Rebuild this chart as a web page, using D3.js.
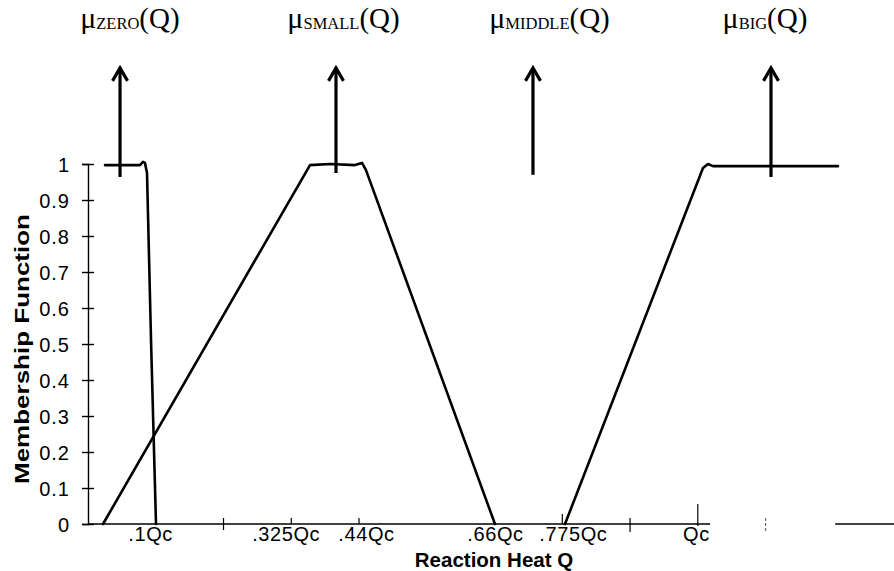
<!DOCTYPE html>
<html>
<head>
<meta charset="utf-8">
<script src="https://cdn.jsdelivr.net/npm/d3@7/dist/d3.min.js"></script>
<style>
  html, body { margin: 0; padding: 0; background: #fff; }
  svg { display: block; }
</style>
</head>
<body>
<svg id="chart" width="894" height="571"></svg>
<script>
// Membership functions of the reaction heat Q (x in units of Qc)
const zeroQ   = [0.0276, 0.0844, 0.0893, 0.0925, 0.0958, 0.1023, 0.1104];
const zeroMu  = [0.997, 0.997, 1.006, 1.003, 0.975, 0.511, 0];
const smallQ  = [0.0244, 0.3604, 0.3929, 0.4334, 0.4448, 0.4513, 0.6607];
const smallMu = [0, 0.997, 1.0, 0.997, 1.003, 0.983, 0];
const bigQ    = [0.7744, 0.9984, 1.0065, 1.0146, 1.2175];
const bigMu   = [0, 0.989, 1.0, 0.994, 0.994];

// Fuzzy set names and where their singleton arrows stand
const setNames  = ["ZERO", "SMALL", "MIDDLE", "BIG"];
const arrowQ    = [0.052, 0.4026, 0.7224, 1.1088];
const arrowFrom = [0.964, 0.975, 0.97, 0.964];
const arrowTo   = 1.267;
const nameQ     = [0.068, 0.4148, 0.7492, 1.099];

// Axis ticks and labels
const yTicks      = [0, 0.1, 0.2, 0.3, 0.4, 0.5, 0.6, 0.7, 0.8, 0.9, 1];
const xTicks      = [0.22, 0.33, 0.44, 0.77, 0.88, 0.99, 1.10];
const xLabelQ     = [0.1, 0.325, 0.44, 0.66, 0.775, 1];
const xLabelText  = [".1Qc", ".325Qc", ".44Qc", ".66Qc", ".775Qc", "Qc"];
const axisSpans   = [[0, 1.01], [1.213, 1.3085]];

// layout
const xLabelNudge = [1, -2, 7.5, 1, 8, -7.5];
const xTickUp     = [6, 6, 6, 10, 6, 20, 6];
const xTickDown   = [6, 0, 0, 0, 8, 2, 9];
const svg = d3.select("#chart");
const x = d3.scaleLinear().domain([0, 1.3085]).range([88, 894]);
const y = d3.scaleLinear().domain([0, 1]).range([524, 164]);

const sans = "'Liberation Sans', Arial, sans-serif";
const serif = "'Liberation Serif', 'Times New Roman', serif";

// y axis with crossing ticks
const yAxis = svg.append("g")
  .attr("transform", `translate(${x(0)},0)`)
  .call(d3.axisLeft(y).tickValues(yTicks).tickSize(6).tickPadding(12)
        .tickFormat(d => (d === 0 || d === 1) ? String(d) : d3.format(".1f")(d)));
yAxis.select(".domain").attr("stroke", "#000").attr("stroke-width", 1.4);
yAxis.selectAll(".tick line").attr("x1", 6).attr("stroke", "#000").attr("stroke-width", 1.4);
yAxis.selectAll(".tick text")
  .attr("font-family", sans).attr("font-size", 20).attr("letter-spacing", 1)
  .attr("fill", "#000").attr("dy", "0.36em");

// x axis line (drawn in spans) and ticks
svg.append("g").selectAll("line").data(axisSpans).join("line")
  .attr("x1", d => x(d[0])).attr("x2", d => x(d[1]))
  .attr("y1", y(0)).attr("y2", y(0))
  .attr("stroke", "#000").attr("stroke-width", 1.6);
svg.append("g").selectAll("line").data(xTicks).join("line")
  .attr("x1", d => x(d)).attr("x2", d => x(d))
  .attr("y1", (d, i) => y(0) - xTickUp[i]).attr("y2", (d, i) => y(0) + xTickDown[i])
  .attr("stroke", (d, i) => i === xTicks.length - 1 ? "#666" : "#000")
  .attr("stroke-dasharray", (d, i) => i === xTicks.length - 1 ? "3,2" : null)
  .attr("stroke-width", 1.2);

svg.append("g").selectAll("text").data(xLabelQ).join("text")
  .attr("x", (d, i) => x(d) + xLabelNudge[i]).attr("y", 541)
  .attr("text-anchor", "middle")
  .attr("font-family", sans).attr("font-size", 20).attr("letter-spacing", 0.6)
  .text((d, i) => xLabelText[i]);

// axis titles
svg.append("text")
  .attr("x", 494).attr("y", 567).attr("text-anchor", "middle")
  .attr("font-family", sans).attr("font-size", 20.5).attr("font-weight", "bold")
  .text("Reaction Heat Q");
svg.append("text")
  .attr("transform", "translate(29,349) rotate(-90)")
  .attr("text-anchor", "middle")
  .attr("font-family", sans).attr("font-size", 21).attr("font-weight", "bold")
  .attr("textLength", 270).attr("lengthAdjust", "spacingAndGlyphs")
  .text("Membership Function");

// membership curves
const line = d3.line().x(d => x(d[0])).y(d => y(d[1]));
const curves = [d3.zip(zeroQ, zeroMu), d3.zip(smallQ, smallMu), d3.zip(bigQ, bigMu)];
svg.append("g").selectAll("path").data(curves).join("path")
  .attr("d", line)
  .attr("fill", "none").attr("stroke", "#000").attr("stroke-width", 2.6)
  .attr("stroke-linejoin", "round").attr("stroke-linecap", "round");

// singleton arrows
const arrows = svg.append("g").selectAll("g").data(arrowQ).join("g");
arrows.append("line")
  .attr("x1", d => x(d)).attr("x2", d => x(d))
  .attr("y1", (d, i) => y(arrowFrom[i])).attr("y2", y(arrowTo) + 2)
  .attr("stroke", "#000").attr("stroke-width", 3.2);
arrows.append("path")
  .attr("d", d => `M${x(d) - 7.5},${y(arrowTo) + 13} L${x(d)},${y(arrowTo)} L${x(d) + 7.5},${y(arrowTo) + 13}`)
  .attr("fill", "none").attr("stroke", "#000").attr("stroke-width", 3.2)
  .attr("stroke-linejoin", "miter");

// set names above the arrows
const names = svg.append("g").selectAll("text").data(setNames).join("text")
  .attr("x", (d, i) => x(nameQ[i])).attr("y", 28)
  .attr("text-anchor", "middle")
  .attr("font-family", serif).attr("fill", "#000");
names.append("tspan").attr("font-size", 30).text("\u03bc");
names.append("tspan").attr("font-size", 16.5).attr("dy", 1).text(d => d);
names.append("tspan").attr("font-size", 29).attr("dy", -1).text("(Q)");
</script>
</body>
</html>
